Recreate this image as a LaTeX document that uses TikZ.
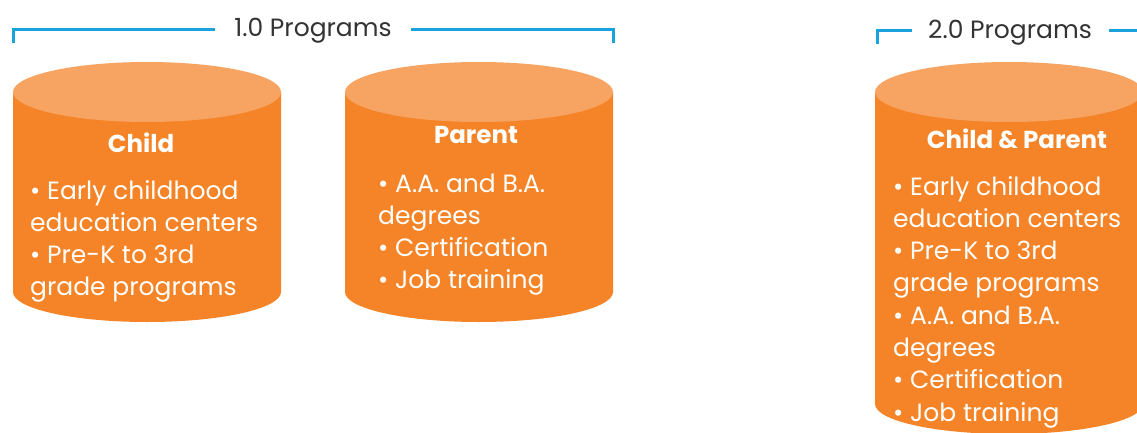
\documentclass[tikz,border=0pt]{standalone}
\usepackage{fontspec}
\setmainfont{Poppins}
\definecolor{body}{HTML}{F48427}
\definecolor{lid}{HTML}{F7A462}
\definecolor{brk}{HTML}{1BA1DB}
\definecolor{ttl}{HTML}{333333}
\tikzset{
  bracketline/.style={draw=brk, line width=3pt},
  titletext/.style={font=\fontsize{25}{30}\selectfont, text=ttl, inner sep=0pt, anchor=base},
  headtext/.style={font=\bfseries\fontsize{24.5}{28}\selectfont, text=white, inner sep=0pt, anchor=base},
  listtext/.style={font=\fontsize{25}{32.3}\selectfont, text=white, inner sep=0pt, anchor=base west},
}
\newcommand{\cyl}[4]{% left, right, top center y, bottom center y
  \fill[body] (#1pt,-#3pt) -- (#1pt,-#4pt) arc[start angle=180, end angle=360, x radius={(#2-#1)/2*1pt}, y radius=30pt] -- (#2pt,-#3pt) -- cycle;
  \fill[lid] ({(#1+#2)/2*1pt},-#3pt) ellipse[x radius={(#2-#1)/2*1pt}, y radius=30pt];
}
\newcommand{\lines}[1]{\begin{tabular}[t]{@{}l@{}}#1\end{tabular}}
\begin{document}
\begin{tikzpicture}[x=1pt,y=-1pt]
\useasboundingbox (0,0) rectangle (1137,433);
\clip (0,0) rectangle (1137,433);
\fill[white] (0,0) rectangle (1137,433);
% cylinders
\cyl{13}{281}{92}{292}
\cyl{345}{613}{92}{292}
\cyl{875}{1143}{92}{404}
% bracket 1.0
\node[titletext] (t1) at (313,37) {1.0 Programs};
\coordinate (b1l) at (13,43);
\coordinate (b1r) at (613,43);
\draw[bracketline] (b1l) -- (13,30) -- (215,30);
\draw[bracketline] (411,30) -- (613,30) -- (b1r);
% bracket 2.0
\node[titletext] (t2) at (1010,39) {2.0 Programs};
\coordinate (b2l) at (877,44);
\draw[bracketline] (b2l) -- (877,31) -- (912,31);
\draw[bracketline] (1109,31) -- (1145,31);
% texts
\node[headtext] (h1) at (141,152) {Child};
\node[listtext] (l1) at (30,199) {\lines{• Early childhood\\education centers\\• Pre-K to 3rd\\grade programs}};
\node[headtext] (h2) at (476,143) {Parent};
\node[listtext] (l2) at (378,192) {\lines{• A.A. and B.A.\\degrees\\• Certification\\• Job training}};
\node[headtext] (h3) at (1017,149) {Child \& Parent};
\node[listtext] (l3) at (893,195) {\lines{• Early childhood\\education centers\\• Pre-K to 3rd\\grade programs\\• A.A. and B.A.\\degrees\\• Certification\\• Job training}};
\end{tikzpicture}
\end{document}
